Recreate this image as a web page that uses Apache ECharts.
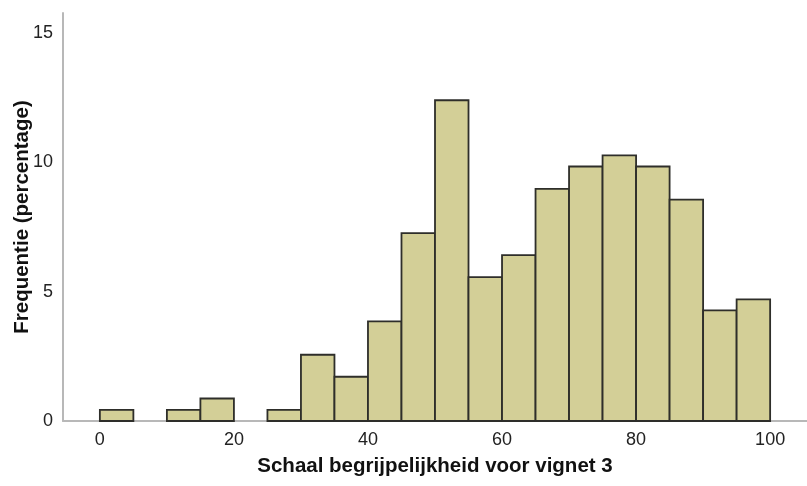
<!DOCTYPE html>
<html>
<head>
<meta charset="utf-8">
<script src="https://cdn.jsdelivr.net/npm/echarts@6/dist/echarts.min.js"></script>
<style>
  html, body { margin: 0; padding: 0; background: #fff; }
  #chart { width: 807px; height: 486px; }
</style>
</head>
<body>
<div id="chart"></div>
<script>
// histogram bins (width 5) and percentage per bin
const binStart = [0, 10, 15, 25, 30, 35, 40, 45, 50, 55, 60, 65, 70, 75, 80, 85, 90, 95];
const percent = [0.43, 0.43, 0.87, 0.43, 2.56, 1.71, 3.85, 7.26, 12.39, 5.56, 6.41, 8.97, 9.83, 10.26, 9.83, 8.55, 4.27, 4.70];
const binWidth = 5;
const xTicks = [0, 20, 40, 60, 80, 100];
const yTicks = [0, 5, 10, 15];

const data = binStart.map((s, i) => [s, s + binWidth, percent[i]]);

const chart = echarts.init(document.getElementById('chart'));
chart.setOption({
  animation: false,
  grid: { left: 63, right: 0, top: 13, bottom: 65, outerBoundsMode: 'none', containLabel: false },
  xAxis: {
    type: 'value',
    min: -5.5,
    max: 105.5,
    name: 'Schaal begrijpelijkheid voor vignet 3',
    nameLocation: 'middle',
    nameGap: 35,
    nameMoveOverlap: false,
    nameTextStyle: { fontFamily: 'Liberation Sans', fontWeight: 'bold', fontSize: 20.5, color: '#111' },
    axisLine: { show: true, onZero: false, lineStyle: { color: '#b8b8b8', width: 2 } },
    axisTick: { show: false },
    splitLine: { show: false },
    axisLabel: {
      customValues: xTicks,
      margin: 10,
      fontFamily: 'Liberation Sans', fontSize: 18, color: '#222'
    }
  },
  yAxis: {
    type: 'value',
    min: 0,
    max: 15.76,
    name: 'Frequentie (percentage)',
    nameLocation: 'middle',
    nameGap: 30,
    nameMoveOverlap: false,
    nameTextStyle: { fontFamily: 'Liberation Sans', fontWeight: 'bold', fontSize: 20.5, color: '#111' },
    axisLine: { show: true, onZero: false, lineStyle: { color: '#b8b8b8', width: 2 } },
    axisTick: { show: false },
    splitLine: { show: false },
    axisLabel: {
      customValues: yTicks,
      margin: 10,
      fontFamily: 'Liberation Sans', fontSize: 18, color: '#222'
    }
  },
  series: [{
    type: 'custom',
    data: data,
    encode: { x: [0, 1], y: 2 },
    renderItem: function (params, api) {
      const p0 = api.coord([api.value(0), 0]);
      const p1 = api.coord([api.value(1), api.value(2)]);
      return {
        type: 'rect',
        shape: { x: p0[0], y: p1[1], width: p1[0] - p0[0], height: p0[1] - p1[1] },
        style: { fill: '#d3cf97', stroke: '#2e2e2a', lineWidth: 1.8 }
      };
    }
  }]
});
</script>
</body>
</html>
